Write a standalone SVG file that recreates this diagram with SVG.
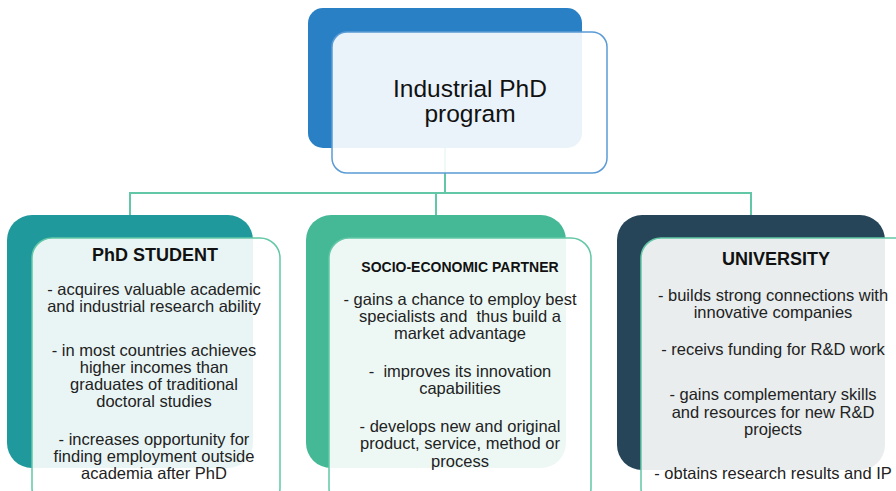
<svg xmlns="http://www.w3.org/2000/svg" width="896" height="491" viewBox="0 0 896 491">
<style>
.front{fill:#ffffff;fill-opacity:0.9;stroke-width:1.5}
.fg{stroke:#62c7a6}
.fb{stroke:#5b9bd5}
.conn{stroke:#62c7a6;stroke-width:2;fill:none}
text{font-family:"Liberation Sans",Arial,sans-serif;fill:#111111;text-anchor:middle}
.title{font-weight:bold;font-size:18px}
.body{font-size:16.5px;fill:#222222}
</style>
<rect width="896" height="491" fill="#ffffff"/>
<g id="connectors">
<line class="conn" x1="445" y1="148" x2="445" y2="193"/>
<line class="conn" x1="129" y1="193" x2="751" y2="193"/>
<line class="conn" x1="130" y1="192" x2="130" y2="215"/>
<line class="conn" x1="436" y1="192" x2="436" y2="215"/>
<line class="conn" x1="751" y1="192" x2="751" y2="215"/>
</g>
<g id="program">
<rect x="308" y="8" width="274" height="140" rx="15" fill="#2a80c5"/>
<rect class="front fb" x="332" y="32" width="275" height="141" rx="15"/>
<text x="470" y="97" font-size="24.5">Industrial PhD</text>
<text x="470" y="122" font-size="24.5">program</text>
</g>
<g id="student">
<rect x="7" y="215" width="246" height="253" rx="25" fill="#1f999b"/>
<rect class="front fg" x="32" y="238" width="248" height="270" rx="20"/>
<text class="title" x="155" y="261">PhD STUDENT</text>
<text class="body" x="154" y="295">- acquires valuable academic</text>
<text class="body" x="154" y="312">and industrial research ability</text>
<text class="body" x="154" y="356">- in most countries achieves</text>
<text class="body" x="154" y="373">higher incomes than</text>
<text class="body" x="154" y="390">graduates of traditional</text>
<text class="body" x="154" y="407">doctoral studies</text>
<text class="body" x="154" y="445">- increases opportunity for</text>
<text class="body" x="154" y="462">finding employment outside</text>
<text class="body" x="154" y="479">academia after PhD</text>
</g>
<g id="partner">
<rect x="306" y="215" width="260" height="253" rx="25" fill="#45b995"/>
<rect class="front fg" x="329" y="238" width="262" height="270" rx="20"/>
<text x="460" y="272" font-size="14" font-weight="bold">SOCIO-ECONOMIC PARTNER</text>
<text class="body" x="460" y="305">- gains a chance to employ best</text>
<text class="body" x="460" y="322" xml:space="preserve">specialists and  thus build a</text>
<text class="body" x="460" y="339">market advantage</text>
<text class="body" x="460" y="377" xml:space="preserve">-  improves its innovation</text>
<text class="body" x="460" y="394">capabilities</text>
<text class="body" x="460" y="432">- develops new and original</text>
<text class="body" x="460" y="449">product, service, method or</text>
<text class="body" x="460" y="467">process</text>
</g>
<g id="university">
<rect x="617" y="215" width="268" height="255" rx="25" fill="#264558"/>
<rect class="front fg" x="641" y="238" width="275" height="270" rx="20"/>
<text class="title" x="776" y="265" font-size="17">UNIVERSITY</text>
<text class="body" x="773" y="301">- builds strong connections with</text>
<text class="body" x="773" y="318">innovative companies</text>
<text class="body" x="773" y="355">- receivs funding for R&amp;D work</text>
<text class="body" x="773" y="400">- gains complementary skills</text>
<text class="body" x="773" y="418">and resources for new R&amp;D</text>
<text class="body" x="773" y="435">projects</text>
<text class="body" x="773" y="479">- obtains research results and IP</text>
</g>
</svg>
